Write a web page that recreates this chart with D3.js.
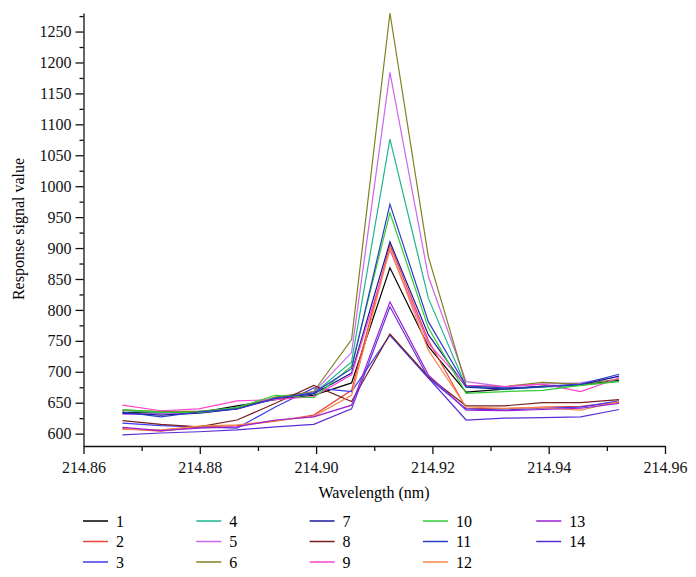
<!DOCTYPE html>
<html>
<head>
<meta charset="utf-8">
<script src="https://cdn.jsdelivr.net/npm/d3@7"></script>
<style>
  body { margin: 0; background: #fff; }
</style>
</head>
<body>
<svg id="chart" width="696" height="577"></svg>
<script>
const width = 696;
const height = 577;
const serif = "'Liberation Serif', 'Times New Roman', 'DejaVu Serif', serif";

// wavelength of each sample (nm)
const wavelengths = [214.8667, 214.8733, 214.8798, 214.8864, 214.8930, 214.8996, 214.9061,
                     214.9127, 214.9193, 214.9258, 214.9324, 214.9390, 214.9455, 214.9521];

const seriesNames = ["1", "2", "3", "4", "5", "6", "7", "8", "9", "10", "11", "12", "13", "14"];

const s1  = [634, 633, 634, 645, 655, 662, 682, 868, 741, 667, 672, 677, 679, 686];
const s2  = [608, 604, 611, 613, 620, 630, 670, 905, 751, 641, 640, 643, 644, 651];
const s3  = [617, 613, 611, 609, 643, 674, 668, 759, 690, 640, 638, 641, 643, 653];
const s4  = [637, 634, 636, 642, 658, 665, 716, 1076, 819, 676, 672, 675, 678, 685];
const s5  = [631, 632, 633, 640, 656, 667, 731, 1184, 854, 684, 676, 680, 682, 692];
const s6  = [638, 636, 636, 641, 659, 668, 752, 1280, 886, 678, 676, 683, 680, 688];
const s7  = [633, 630, 633, 640, 657, 664, 698, 910, 760, 675, 672, 676, 679, 693];
const s8  = [621, 615, 611, 622, 649, 678, 652, 761, 692, 645, 645, 650, 650, 655];
const s9  = [646, 637, 640, 653, 655, 660, 695, 897, 746, 678, 676, 680, 668, 690];
const s10 = [639, 635, 634, 642, 662, 658, 709, 957, 771, 665, 668, 670, 678, 684];
const s11 = [635, 627, 635, 640, 657, 666, 705, 971, 781, 677, 674, 676, 680, 696];
const s12 = [607, 606, 612, 614, 621, 628, 662, 900, 735, 643, 641, 642, 638, 652];
const s13 = [610, 605, 609, 611, 622, 627, 646, 813, 695, 638, 637, 639, 641, 649];
const s14 = [598, 601, 603, 606, 611, 615, 640, 805, 690, 622, 625, 626, 627, 639];

const allSeries = [s1, s2, s3, s4, s5, s6, s7, s8, s9, s10, s11, s12, s13, s14];

const xTicks = [214.86, 214.88, 214.90, 214.92, 214.94, 214.96];
const xMinor = [214.87, 214.89, 214.91, 214.93, 214.95];
const yTicks = [600, 650, 700, 750, 800, 850, 900, 950, 1000, 1050, 1100, 1150, 1200, 1250];
const yMinor = [625, 675, 725, 775, 825, 875, 925, 975, 1025, 1075, 1125, 1175, 1225, 1275];

const colors = ["#000000", "#e8453c", "#3c3cf0", "#1fb58f", "#cc66ee", "#808020", "#1a1a9a",
                "#7a1f1f", "#ff44cc", "#33cc33", "#2b3fc8", "#f58a4a", "#9b1fd4", "#5a2fd8"];

const svg = d3.select("#chart").attr("font-family", serif);

const x = d3.scaleLinear().domain([214.86, 214.96]).range([83.5, 665]);
const y = d3.scaleLinear().domain([580, 1280]).range([446, 13]);

// lines
const line = d3.line()
    .x((d, i) => x(wavelengths[i]))
    .y(d => y(d));

svg.append("g")
  .selectAll("path")
  .data(allSeries)
  .enter().append("path")
    .attr("fill", "none")
    .attr("stroke", (d, i) => colors[i])
    .attr("stroke-width", 1.2)
    .attr("d", line);

// axes
svg.append("g")
    .attr("transform", "translate(0,446)")
    .call(d3.axisBottom(x).tickValues(xTicks).tickFormat(d3.format(".2f"))
          .tickSize(8).tickPadding(8).tickSizeOuter(0));
svg.append("g")
    .attr("transform", "translate(0,446)")
    .call(d3.axisBottom(x).tickValues(xMinor).tickFormat("").tickSize(5).tickSizeOuter(0))
    .select(".domain").remove();

svg.append("g")
    .attr("transform", "translate(83.5,0)")
    .call(d3.axisLeft(y).tickValues(yTicks).tickFormat(d3.format("d"))
          .tickSize(8).tickPadding(4).tickSizeOuter(0));
svg.append("g")
    .attr("transform", "translate(83.5,0)")
    .call(d3.axisLeft(y).tickValues(yMinor).tickFormat("").tickSize(4).tickSizeOuter(0))
    .select(".domain").remove();

svg.selectAll("g").attr("font-family", serif).attr("font-size", 16);
svg.selectAll(".tick text").attr("fill", "#111");
svg.selectAll(".domain, .tick line").attr("stroke", "#111").attr("stroke-width", 1.3);

// axis titles
svg.append("text")
    .attr("x", 374)
    .attr("y", 498)
    .attr("text-anchor", "middle")
    .attr("font-size", 16)
    .text("Wavelength (nm)");

svg.append("text")
    .attr("transform", "translate(24,229) rotate(-90)")
    .attr("text-anchor", "middle")
    .attr("font-size", 16)
    .text("Response signal value");

// legend, filled column by column
const legend = svg.append("g");
seriesNames.forEach((name, i) => {
    const col = Math.floor(i / 3);
    const row = i % 3;
    const lx = 83 + col * 113.3;
    const ly = 521 + row * 20.5;
    legend.append("line")
        .attr("x1", lx).attr("x2", lx + 25)
        .attr("y1", ly).attr("y2", ly)
        .attr("stroke", colors[i])
        .attr("stroke-width", 1.5);
    legend.append("text")
        .attr("x", lx + 33)
        .attr("y", ly)
        .attr("dy", "0.35em")
        .attr("font-size", 16)
        .text(name);
});
</script>
</body>
</html>
